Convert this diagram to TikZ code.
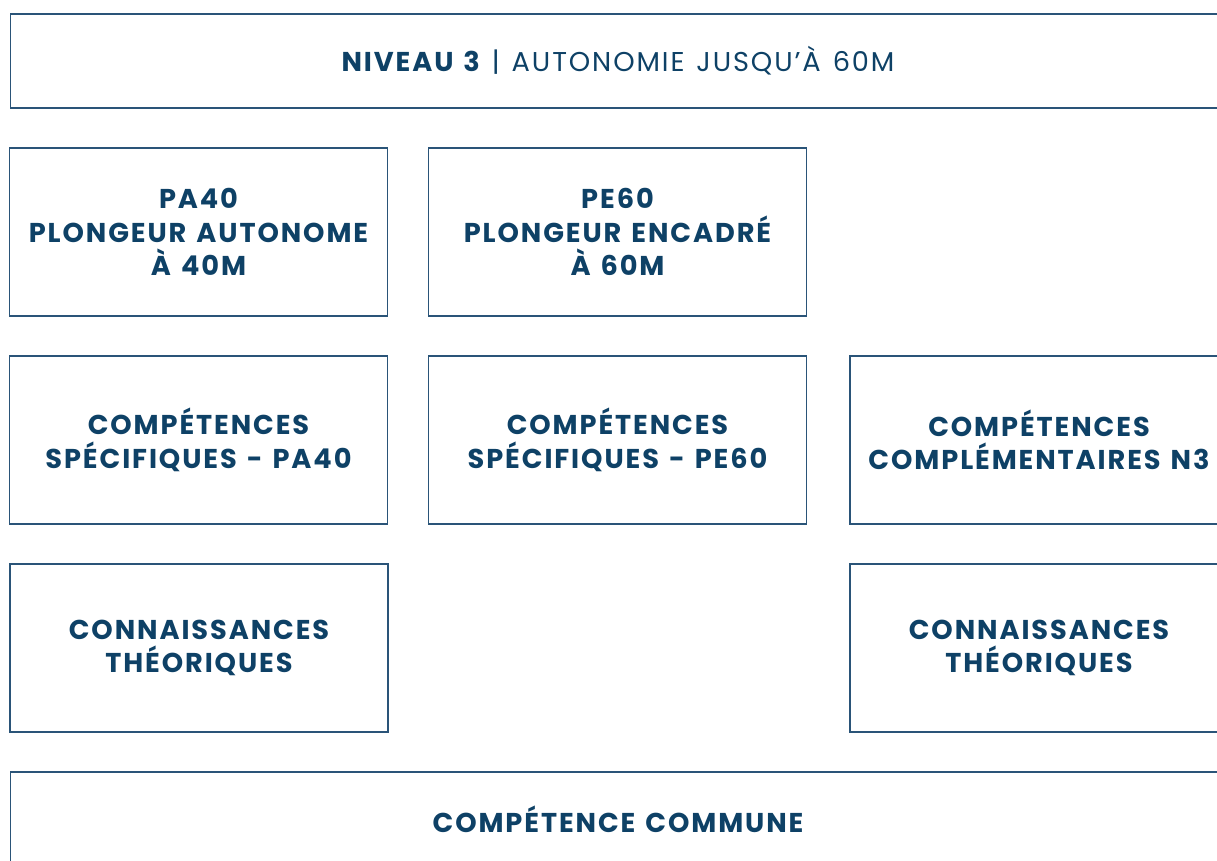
\documentclass[tikz,border=0pt]{standalone}
\usepackage{fontspec}
\newfontfamily\cardfont[LetterSpace=7, WordSpace=1.3]{Poppins}
\definecolor{navy}{HTML}{0E4166}
\definecolor{edgeblue}{HTML}{2A5478}
\begin{document}
\begin{tikzpicture}[x=0.02cm, y=-0.02cm,
    card/.style={draw=edgeblue, line width=0.7pt, rectangle, text=navy, align=center,
        inner sep=0pt, font=\cardfont\bfseries\fontsize{15.5}{19}\selectfont},
    wide/.style={card, minimum width=24.32cm, minimum height=1.88cm},
    half/.style={card, minimum width=7.56cm, minimum height=3.36cm}]
    \useasboundingbox (0,0) rectangle (1217,861);
    \clip (0,0) rectangle (1217,861);
    % Nodes
    \node[wide, font=\cardfont\fontsize{15.5}{19}\selectfont] (N3) at (618, 61) {{\bfseries NIVEAU 3} | AUTONOMIE JUSQU’À 60M};
    \node[half] (PA) at (198.5, 232) {PA40\\PLONGEUR AUTONOME\\À 40M};
    \node[half] (PE) at (617.5, 232) {PE60\\PLONGEUR ENCADRÉ\\À 60M};
    \node[half] (SPA) at (198.5, 440) {COMPÉTENCES\\SPÉCIFIQUES - PA40};
    \node[half] (SPE) at (617.5, 440) {COMPÉTENCES\\SPÉCIFIQUES - PE60};
    \node[half] (CN3) at (1039, 440) {COMPÉTENCES\\COMPLÉMENTAIRES N3};
    \node[half] (TPA) at (199, 648) {CONNAISSANCES\\THÉORIQUES};
    \node[half] (TN3) at (1039, 648) {CONNAISSANCES\\THÉORIQUES};
    \node[wide] (CC) at (618, 819) {COMPÉTENCE COMMUNE};
\end{tikzpicture}
\end{document}
